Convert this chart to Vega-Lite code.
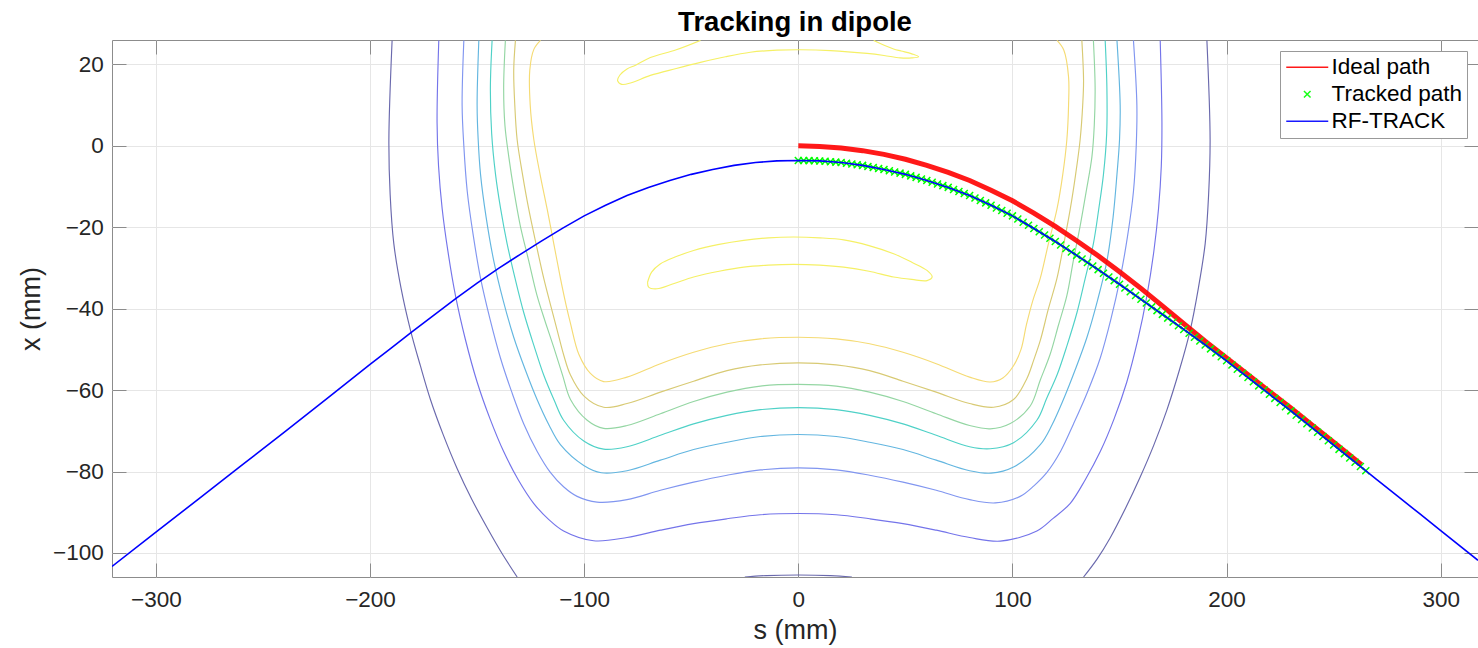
{
"$schema": "https://vega.github.io/schema/vega-lite/v6.json",
"width": 1366,
"height": 537,
"autosize": {"type": "none"},
"padding": {"left": 112, "top": 40, "right": 0, "bottom": 71},
"background": "#ffffff",
"title": {"text": "Tracking in dipole", "font": "Liberation Sans", "fontSize": 27.5, "fontWeight": "bold", "color": "#000000", "anchor": "middle", "offset": 3},
"config": {
  "view": {"stroke": "#8c8c8c", "strokeWidth": 1},
  "axis": {"labelFont": "Liberation Sans", "labelFontSize": 22.5, "labelColor": "#262626", "titleFont": "Liberation Sans", "titleFontSize": 27, "titleFontWeight": "normal", "titleColor": "#262626", "gridColor": "#e6e6e6", "gridWidth": 1, "tickColor": "#8c8c8c", "tickWidth": 1, "tickSize": -14, "domain": false}
},
"resolve": {"axis": {"x": "independent", "y": "independent"}},
"datasets": {
"contours": [
{"p":"C1","l":"C1","s":-120.4,"x":25.9},{"p":"C1","l":"C1","s":-123.5,"x":23.7},{"p":"C1","l":"C1","s":-125.4,"x":18.6},{"p":"C1","l":"C1","s":-125.2,"x":10},{"p":"C1","l":"C1","s":-123.5,"x":1.5},{"p":"C1","l":"C1","s":-120.6,"x":-7},{"p":"C1","l":"C1","s":-117.3,"x":-15.5},{"p":"C1","l":"C1","s":-114.2,"x":-24},{"p":"C1","l":"C1","s":-111.1,"x":-32.5},{"p":"C1","l":"C1","s":-108.5,"x":-39},{"p":"C1","l":"C1","s":-106.4,"x":-43.6},{"p":"C1","l":"C1","s":-102.5,"x":-51.2},{"p":"C1","l":"C1","s":-97.1,"x":-55.9},{"p":"C1","l":"C1","s":-90.9,"x":-57.9},{"p":"C1","l":"C1","s":-80,"x":-56.8},{"p":"C1","l":"C1","s":-64.4,"x":-53.5},{"p":"C1","l":"C1","s":-48.9,"x":-50.7},{"p":"C1","l":"C1","s":-33.3,"x":-48.6},{"p":"C1","l":"C1","s":-17.7,"x":-47.4},{"p":"C1","l":"C1","s":0,"x":-47.0},{"p":"C1","l":"C1","s":17.7,"x":-47.4},{"p":"C1","l":"C1","s":33.3,"x":-48.6},{"p":"C1","l":"C1","s":48.9,"x":-50.7},{"p":"C1","l":"C1","s":64.4,"x":-53.5},{"p":"C1","l":"C1","s":80,"x":-56.8},{"p":"C1","l":"C1","s":89.6,"x":-58.0},{"p":"C1","l":"C1","s":95.5,"x":-57.0},{"p":"C1","l":"C1","s":100.5,"x":-54.0},{"p":"C1","l":"C1","s":104,"x":-50},{"p":"C1","l":"C1","s":106.5,"x":-44},{"p":"C1","l":"C1","s":109.5,"x":-38},{"p":"C1","l":"C1","s":113,"x":-32.5},{"p":"C1","l":"C1","s":116.8,"x":-24},{"p":"C1","l":"C1","s":120.8,"x":-15.5},{"p":"C1","l":"C1","s":123.5,"x":-7},{"p":"C1","l":"C1","s":125.4,"x":1.5},{"p":"C1","l":"C1","s":126.2,"x":10},{"p":"C1","l":"C1","s":126.2,"x":16.9},{"p":"C1","l":"C1","s":124,"x":23.5},{"p":"C1","l":"C1","s":120.8,"x":25.9},
{"p":"C2","l":"C2","s":-132.1,"x":25.9},{"p":"C2","l":"C2","s":-132.9,"x":18.6},{"p":"C2","l":"C2","s":-132.4,"x":10},{"p":"C2","l":"C2","s":-131.3,"x":1.5},{"p":"C2","l":"C2","s":-128.8,"x":-7},{"p":"C2","l":"C2","s":-125.9,"x":-15.5},{"p":"C2","l":"C2","s":-122.5,"x":-24},{"p":"C2","l":"C2","s":-118.9,"x":-32.5},{"p":"C2","l":"C2","s":-115.5,"x":-39.5},{"p":"C2","l":"C2","s":-112.6,"x":-45.3},{"p":"C2","l":"C2","s":-109.5,"x":-51.5},{"p":"C2","l":"C2","s":-106.4,"x":-56.3},{"p":"C2","l":"C2","s":-100.2,"x":-61.4},{"p":"C2","l":"C2","s":-90.9,"x":-64.2},{"p":"C2","l":"C2","s":-80,"x":-63.3},{"p":"C2","l":"C2","s":-64.4,"x":-60.5},{"p":"C2","l":"C2","s":-48.9,"x":-57.8},{"p":"C2","l":"C2","s":-33.3,"x":-55.2},{"p":"C2","l":"C2","s":-17.7,"x":-53.8},{"p":"C2","l":"C2","s":0,"x":-53.3},{"p":"C2","l":"C2","s":17.7,"x":-53.8},{"p":"C2","l":"C2","s":33.3,"x":-55.2},{"p":"C2","l":"C2","s":48.9,"x":-57.8},{"p":"C2","l":"C2","s":64.4,"x":-60.5},{"p":"C2","l":"C2","s":80,"x":-63.3},{"p":"C2","l":"C2","s":91.2,"x":-64.2},{"p":"C2","l":"C2","s":100.5,"x":-62.3},{"p":"C2","l":"C2","s":106.7,"x":-57.2},{"p":"C2","l":"C2","s":110,"x":-52.5},{"p":"C2","l":"C2","s":113,"x":-47.8},{"p":"C2","l":"C2","s":116.8,"x":-40},{"p":"C2","l":"C2","s":120.8,"x":-32.5},{"p":"C2","l":"C2","s":124,"x":-24},{"p":"C2","l":"C2","s":127,"x":-15.5},{"p":"C2","l":"C2","s":129.5,"x":-7},{"p":"C2","l":"C2","s":131.6,"x":1.5},{"p":"C2","l":"C2","s":132.8,"x":10},{"p":"C2","l":"C2","s":133.2,"x":16},{"p":"C2","l":"C2","s":132.4,"x":25.9},
{"p":"C3","l":"C3","s":-136.8,"x":25.9},{"p":"C3","l":"C3","s":-137.6,"x":14.3},{"p":"C3","l":"C3","s":-137,"x":5},{"p":"C3","l":"C3","s":-135.2,"x":-2.7},{"p":"C3","l":"C3","s":-132.8,"x":-11},{"p":"C3","l":"C3","s":-129.8,"x":-19.7},{"p":"C3","l":"C3","s":-126,"x":-28},{"p":"C3","l":"C3","s":-122,"x":-36.8},{"p":"C3","l":"C3","s":-118,"x":-43.5},{"p":"C3","l":"C3","s":-114.2,"x":-49.5},{"p":"C3","l":"C3","s":-110,"x":-56.5},{"p":"C3","l":"C3","s":-106.4,"x":-62.3},{"p":"C3","l":"C3","s":-98.6,"x":-67.4},{"p":"C3","l":"C3","s":-90.9,"x":-69.4},{"p":"C3","l":"C3","s":-80,"x":-68.7},{"p":"C3","l":"C3","s":-64.4,"x":-65.8},{"p":"C3","l":"C3","s":-48.9,"x":-62.8},{"p":"C3","l":"C3","s":-33.3,"x":-60.5},{"p":"C3","l":"C3","s":-17.7,"x":-59.0},{"p":"C3","l":"C3","s":0,"x":-58.6},{"p":"C3","l":"C3","s":17.7,"x":-59.0},{"p":"C3","l":"C3","s":33.3,"x":-60.5},{"p":"C3","l":"C3","s":48.9,"x":-62.8},{"p":"C3","l":"C3","s":64.4,"x":-65.8},{"p":"C3","l":"C3","s":80,"x":-68.7},{"p":"C3","l":"C3","s":89.6,"x":-69.5},{"p":"C3","l":"C3","s":99,"x":-68.2},{"p":"C3","l":"C3","s":108.3,"x":-63.9},{"p":"C3","l":"C3","s":113,"x":-57.5},{"p":"C3","l":"C3","s":117.6,"x":-51.2},{"p":"C3","l":"C3","s":121.5,"x":-44},{"p":"C3","l":"C3","s":125.4,"x":-36.8},{"p":"C3","l":"C3","s":128.5,"x":-28},{"p":"C3","l":"C3","s":131.6,"x":-19.7},{"p":"C3","l":"C3","s":134.5,"x":-11},{"p":"C3","l":"C3","s":137.1,"x":-2.7},{"p":"C3","l":"C3","s":138.2,"x":5},{"p":"C3","l":"C3","s":138.6,"x":14.3},{"p":"C3","l":"C3","s":137.8,"x":25.9},
{"p":"C4","l":"C4","s":-143,"x":25.9},{"p":"C4","l":"C4","s":-143.8,"x":14.3},{"p":"C4","l":"C4","s":-143.2,"x":3},{"p":"C4","l":"C4","s":-141.4,"x":-7},{"p":"C4","l":"C4","s":-139,"x":-15.5},{"p":"C4","l":"C4","s":-136,"x":-24},{"p":"C4","l":"C4","s":-132.3,"x":-32.5},{"p":"C4","l":"C4","s":-128.2,"x":-41},{"p":"C4","l":"C4","s":-123.5,"x":-49},{"p":"C4","l":"C4","s":-118.9,"x":-56.3},{"p":"C4","l":"C4","s":-114,"x":-62.5},{"p":"C4","l":"C4","s":-109.6,"x":-67.4},{"p":"C4","l":"C4","s":-100.2,"x":-72.5},{"p":"C4","l":"C4","s":-90.9,"x":-74.5},{"p":"C4","l":"C4","s":-80,"x":-73.9},{"p":"C4","l":"C4","s":-64.4,"x":-71.1},{"p":"C4","l":"C4","s":-48.9,"x":-68.3},{"p":"C4","l":"C4","s":-33.3,"x":-66.2},{"p":"C4","l":"C4","s":-17.7,"x":-64.8},{"p":"C4","l":"C4","s":0,"x":-64.3},{"p":"C4","l":"C4","s":17.7,"x":-64.8},{"p":"C4","l":"C4","s":33.3,"x":-66.2},{"p":"C4","l":"C4","s":48.9,"x":-68.3},{"p":"C4","l":"C4","s":64.4,"x":-71.1},{"p":"C4","l":"C4","s":80,"x":-73.9},{"p":"C4","l":"C4","s":89.6,"x":-74.4},{"p":"C4","l":"C4","s":100.5,"x":-72.9},{"p":"C4","l":"C4","s":111.4,"x":-67.4},{"p":"C4","l":"C4","s":116,"x":-62},{"p":"C4","l":"C4","s":120.8,"x":-56.3},{"p":"C4","l":"C4","s":125.5,"x":-49},{"p":"C4","l":"C4","s":130.1,"x":-41},{"p":"C4","l":"C4","s":134,"x":-32.5},{"p":"C4","l":"C4","s":137.8,"x":-24},{"p":"C4","l":"C4","s":140.3,"x":-15.5},{"p":"C4","l":"C4","s":142.5,"x":-7},{"p":"C4","l":"C4","s":144,"x":3},{"p":"C4","l":"C4","s":144.1,"x":14.3},{"p":"C4","l":"C4","s":143.3,"x":25.9},
{"p":"C5","l":"C5","s":-149.2,"x":25.9},{"p":"C5","l":"C5","s":-150,"x":10},{"p":"C5","l":"C5","s":-149.5,"x":1.5},{"p":"C5","l":"C5","s":-148.4,"x":-7},{"p":"C5","l":"C5","s":-145.8,"x":-17.5},{"p":"C5","l":"C5","s":-142.2,"x":-28.3},{"p":"C5","l":"C5","s":-137.8,"x":-38},{"p":"C5","l":"C5","s":-132.9,"x":-47},{"p":"C5","l":"C5","s":-127.5,"x":-55},{"p":"C5","l":"C5","s":-122,"x":-62.3},{"p":"C5","l":"C5","s":-116.5,"x":-68.5},{"p":"C5","l":"C5","s":-111.1,"x":-73.4},{"p":"C5","l":"C5","s":-100.2,"x":-78.5},{"p":"C5","l":"C5","s":-92,"x":-80.3},{"p":"C5","l":"C5","s":-80,"x":-79.8},{"p":"C5","l":"C5","s":-64.4,"x":-77.2},{"p":"C5","l":"C5","s":-48.9,"x":-74.6},{"p":"C5","l":"C5","s":-33.3,"x":-72.8},{"p":"C5","l":"C5","s":-17.7,"x":-71.4},{"p":"C5","l":"C5","s":0,"x":-70.9},{"p":"C5","l":"C5","s":17.7,"x":-71.4},{"p":"C5","l":"C5","s":33.3,"x":-72.8},{"p":"C5","l":"C5","s":48.9,"x":-74.6},{"p":"C5","l":"C5","s":64.4,"x":-77.2},{"p":"C5","l":"C5","s":80,"x":-79.8},{"p":"C5","l":"C5","s":90,"x":-80.4},{"p":"C5","l":"C5","s":100.5,"x":-78.9},{"p":"C5","l":"C5","s":113,"x":-73.4},{"p":"C5","l":"C5","s":118.5,"x":-68.5},{"p":"C5","l":"C5","s":123.8,"x":-62.3},{"p":"C5","l":"C5","s":129.3,"x":-55},{"p":"C5","l":"C5","s":134.8,"x":-47},{"p":"C5","l":"C5","s":139.7,"x":-38},{"p":"C5","l":"C5","s":144.1,"x":-28.3},{"p":"C5","l":"C5","s":147,"x":-17.5},{"p":"C5","l":"C5","s":148.8,"x":-7},{"p":"C5","l":"C5","s":150,"x":1.5},{"p":"C5","l":"C5","s":150.3,"x":10},{"p":"C5","l":"C5","s":148.8,"x":25.9},
{"p":"C6","l":"C6","s":-156.2,"x":25.9},{"p":"C6","l":"C6","s":-157,"x":10},{"p":"C6","l":"C6","s":-156.2,"x":0},{"p":"C6","l":"C6","s":-154.6,"x":-11.2},{"p":"C6","l":"C6","s":-151.8,"x":-22},{"p":"C6","l":"C6","s":-148.4,"x":-32.5},{"p":"C6","l":"C6","s":-144,"x":-42.5},{"p":"C6","l":"C6","s":-139.1,"x":-52.1},{"p":"C6","l":"C6","s":-133.8,"x":-60.5},{"p":"C6","l":"C6","s":-128.2,"x":-68.3},{"p":"C6","l":"C6","s":-122,"x":-75},{"p":"C6","l":"C6","s":-115.8,"x":-80.2},{"p":"C6","l":"C6","s":-109.5,"x":-83.8},{"p":"C6","l":"C6","s":-103.3,"x":-86.1},{"p":"C6","l":"C6","s":-94,"x":-87.5},{"p":"C6","l":"C6","s":-80,"x":-86.9},{"p":"C6","l":"C6","s":-64.4,"x":-84.6},{"p":"C6","l":"C6","s":-48.9,"x":-82.6},{"p":"C6","l":"C6","s":-33.3,"x":-80.9},{"p":"C6","l":"C6","s":-17.7,"x":-79.6},{"p":"C6","l":"C6","s":0,"x":-79.1},{"p":"C6","l":"C6","s":17.7,"x":-79.6},{"p":"C6","l":"C6","s":33.3,"x":-80.9},{"p":"C6","l":"C6","s":48.9,"x":-82.6},{"p":"C6","l":"C6","s":64.4,"x":-84.6},{"p":"C6","l":"C6","s":80,"x":-86.9},{"p":"C6","l":"C6","s":92,"x":-87.7},{"p":"C6","l":"C6","s":103.6,"x":-86.1},{"p":"C6","l":"C6","s":110,"x":-83.5},{"p":"C6","l":"C6","s":116.1,"x":-80.2},{"p":"C6","l":"C6","s":122.5,"x":-75},{"p":"C6","l":"C6","s":128.5,"x":-68.3},{"p":"C6","l":"C6","s":135,"x":-60.5},{"p":"C6","l":"C6","s":141,"x":-52.1},{"p":"C6","l":"C6","s":146,"x":-42.5},{"p":"C6","l":"C6","s":150.3,"x":-32.5},{"p":"C6","l":"C6","s":153.8,"x":-22},{"p":"C6","l":"C6","s":156.5,"x":-11.2},{"p":"C6","l":"C6","s":157.8,"x":0},{"p":"C6","l":"C6","s":158.1,"x":10},{"p":"C6","l":"C6","s":156.5,"x":25.9},
{"p":"C7","l":"C7","s":-167.9,"x":25.9},{"p":"C7","l":"C7","s":-168.7,"x":5.8},{"p":"C7","l":"C7","s":-168,"x":-5},{"p":"C7","l":"C7","s":-166.3,"x":-15.5},{"p":"C7","l":"C7","s":-163.6,"x":-26},{"p":"C7","l":"C7","s":-160.1,"x":-36.8},{"p":"C7","l":"C7","s":-155.5,"x":-47.5},{"p":"C7","l":"C7","s":-150,"x":-58},{"p":"C7","l":"C7","s":-144,"x":-67},{"p":"C7","l":"C7","s":-137.6,"x":-75.1},{"p":"C7","l":"C7","s":-130.8,"x":-82},{"p":"C7","l":"C7","s":-123.6,"x":-87.8},{"p":"C7","l":"C7","s":-116.5,"x":-91.8},{"p":"C7","l":"C7","s":-109.6,"x":-94.6},{"p":"C7","l":"C7","s":-95.6,"x":-97.0},{"p":"C7","l":"C7","s":-80,"x":-96.2},{"p":"C7","l":"C7","s":-64.4,"x":-94.4},{"p":"C7","l":"C7","s":-48.9,"x":-92.8},{"p":"C7","l":"C7","s":-33.3,"x":-91.6},{"p":"C7","l":"C7","s":-17.7,"x":-90.6},{"p":"C7","l":"C7","s":0,"x":-90.3},{"p":"C7","l":"C7","s":17.7,"x":-90.6},{"p":"C7","l":"C7","s":33.3,"x":-91.6},{"p":"C7","l":"C7","s":48.9,"x":-92.8},{"p":"C7","l":"C7","s":64.4,"x":-94.4},{"p":"C7","l":"C7","s":80,"x":-96.2},{"p":"C7","l":"C7","s":94.3,"x":-97.1},{"p":"C7","l":"C7","s":111.4,"x":-94.6},{"p":"C7","l":"C7","s":119,"x":-91.5},{"p":"C7","l":"C7","s":127,"x":-87.8},{"p":"C7","l":"C7","s":134,"x":-82},{"p":"C7","l":"C7","s":141,"x":-75.1},{"p":"C7","l":"C7","s":147.5,"x":-67},{"p":"C7","l":"C7","s":153.4,"x":-58},{"p":"C7","l":"C7","s":158.6,"x":-47.5},{"p":"C7","l":"C7","s":162.8,"x":-36.8},{"p":"C7","l":"C7","s":166,"x":-26},{"p":"C7","l":"C7","s":168.2,"x":-15.5},{"p":"C7","l":"C7","s":169.5,"x":-5},{"p":"C7","l":"C7","s":169.8,"x":5.8},{"p":"C7","l":"C7","s":169,"x":25.9},
{"p":"D8a","l":"D8","s":-189.7,"x":25.9},{"p":"D8a","l":"D8","s":-191.2,"x":1.5},{"p":"D8a","l":"D8","s":-190.6,"x":-12},{"p":"D8a","l":"D8","s":-188.9,"x":-24},{"p":"D8a","l":"D8","s":-185.5,"x":-35},{"p":"D8a","l":"D8","s":-181.1,"x":-45.3},{"p":"D8a","l":"D8","s":-176.5,"x":-54},{"p":"D8a","l":"D8","s":-171.8,"x":-62.3},{"p":"D8a","l":"D8","s":-165.8,"x":-71},{"p":"D8a","l":"D8","s":-159.3,"x":-79.3},{"p":"D8a","l":"D8","s":-152.5,"x":-86.8},{"p":"D8a","l":"D8","s":-145.3,"x":-93.8},{"p":"D8a","l":"D8","s":-138.5,"x":-100},{"p":"D8a","l":"D8","s":-131.3,"x":-105.9},
{"p":"D8b","l":"D8","s":190.8,"x":25.9},{"p":"D8b","l":"D8","s":192.3,"x":1.5},{"p":"D8b","l":"D8","s":191.6,"x":-12},{"p":"D8b","l":"D8","s":190,"x":-24},{"p":"D8b","l":"D8","s":186.8,"x":-35},{"p":"D8b","l":"D8","s":183,"x":-45.3},{"p":"D8b","l":"D8","s":178,"x":-55},{"p":"D8b","l":"D8","s":172.1,"x":-64.9},{"p":"D8b","l":"D8","s":166,"x":-73.5},{"p":"D8b","l":"D8","s":159.6,"x":-81.4},{"p":"D8b","l":"D8","s":152.8,"x":-89},{"p":"D8b","l":"D8","s":145.6,"x":-96.3},{"p":"D8b","l":"D8","s":139.5,"x":-101.5},{"p":"D8b","l":"D8","s":133.2,"x":-105.9},
{"p":"D8c","l":"D8","s":-25,"x":-105.9},{"p":"D8c","l":"D8","s":-15,"x":-105.55},{"p":"D8c","l":"D8","s":0,"x":-105.4},{"p":"D8c","l":"D8","s":15,"x":-105.55},{"p":"D8c","l":"D8","s":25,"x":-105.9},
{"p":"I1","l":"I","s":-45.7,"x":25.9},{"p":"I1","l":"I","s":-57,"x":23.6},{"p":"I1","l":"I","s":-69.1,"x":21.7},{"p":"I1","l":"I","s":-76,"x":19.8},{"p":"I1","l":"I","s":-80,"x":18.9},{"p":"I1","l":"I","s":-83.3,"x":17.4},{"p":"I1","l":"I","s":-84.4,"x":16.0},{"p":"I1","l":"I","s":-82.5,"x":15.1},{"p":"I1","l":"I","s":-78,"x":15.5},{"p":"I1","l":"I","s":-69.1,"x":17.3},{"p":"I1","l":"I","s":-57,"x":19.0},{"p":"I1","l":"I","s":-45.7,"x":20.5},{"p":"I1","l":"I","s":-34,"x":21.9},{"p":"I1","l":"I","s":-22.4,"x":23.0},{"p":"I1","l":"I","s":-10,"x":23.5},{"p":"I1","l":"I","s":1,"x":23.6},{"p":"I1","l":"I","s":15,"x":23.4},{"p":"I1","l":"I","s":32.1,"x":22.7},{"p":"I1","l":"I","s":40,"x":22.2},{"p":"I1","l":"I","s":47.6,"x":21.6},{"p":"I1","l":"I","s":53,"x":21.6},{"p":"I1","l":"I","s":56.2,"x":21.9},{"p":"I1","l":"I","s":53,"x":22.6},{"p":"I1","l":"I","s":48,"x":23.3},{"p":"I1","l":"I","s":44.5,"x":23.8},{"p":"I1","l":"I","s":38,"x":25.2},{"p":"I1","l":"I","s":35.2,"x":25.9},
{"p":"I2","l":"I","s":-70.4,"x":-33.5},{"p":"I2","l":"I","s":-68.5,"x":-31},{"p":"I2","l":"I","s":-64.5,"x":-29.0},{"p":"I2","l":"I","s":-57,"x":-27.2},{"p":"I2","l":"I","s":-48.9,"x":-25.7},{"p":"I2","l":"I","s":-37,"x":-24.2},{"p":"I2","l":"I","s":-25.5,"x":-23.2},{"p":"I2","l":"I","s":-14,"x":-22.6},{"p":"I2","l":"I","s":-2.2,"x":-22.4},{"p":"I2","l":"I","s":10,"x":-22.6},{"p":"I2","l":"I","s":21.2,"x":-23.1},{"p":"I2","l":"I","s":33,"x":-24.5},{"p":"I2","l":"I","s":44.5,"x":-26.5},{"p":"I2","l":"I","s":53,"x":-28.6},{"p":"I2","l":"I","s":60.1,"x":-30.6},{"p":"I2","l":"I","s":62.5,"x":-32.2},{"p":"I2","l":"I","s":60.1,"x":-33.1},{"p":"I2","l":"I","s":53,"x":-32.8},{"p":"I2","l":"I","s":44.5,"x":-32.2},{"p":"I2","l":"I","s":33,"x":-30.8},{"p":"I2","l":"I","s":21.2,"x":-29.8},{"p":"I2","l":"I","s":10,"x":-29.3},{"p":"I2","l":"I","s":-2.2,"x":-29.1},{"p":"I2","l":"I","s":-14,"x":-29.3},{"p":"I2","l":"I","s":-25.5,"x":-29.8},{"p":"I2","l":"I","s":-37,"x":-30.8},{"p":"I2","l":"I","s":-48.9,"x":-32.2},{"p":"I2","l":"I","s":-58,"x":-33.8},{"p":"I2","l":"I","s":-66,"x":-35.1},{"p":"I2","l":"I","s":-69.9,"x":-34.7},{"p":"I2","l":"I","s":-70.4,"x":-33.5}
],
"ideal": [
{"series":"Ideal path","s":0,"x":0},{"series":"Ideal path","s":10,"x":-0.13},{"series":"Ideal path","s":20,"x":-0.52},{"series":"Ideal path","s":30,"x":-1.18},{"series":"Ideal path","s":40,"x":-2.1},{"series":"Ideal path","s":50,"x":-3.3},{"series":"Ideal path","s":60,"x":-4.8},{"series":"Ideal path","s":70,"x":-6.5},{"series":"Ideal path","s":80,"x":-8.5},{"series":"Ideal path","s":90,"x":-10.9},{"series":"Ideal path","s":100,"x":-13.5},{"series":"Ideal path","s":110,"x":-16.5},{"series":"Ideal path","s":120,"x":-19.8},{"series":"Ideal path","s":130,"x":-23.3},{"series":"Ideal path","s":140,"x":-27.0},{"series":"Ideal path","s":150,"x":-30.9},{"series":"Ideal path","s":160,"x":-35.0},{"series":"Ideal path","s":170,"x":-39.3},{"series":"Ideal path","s":180,"x":-43.7},{"series":"Ideal path","s":190,"x":-48.0},{"series":"Ideal path","s":200,"x":-52.1},{"series":"Ideal path","s":210,"x":-56.2},{"series":"Ideal path","s":220,"x":-60.3},{"series":"Ideal path","s":230,"x":-64.4},{"series":"Ideal path","s":240,"x":-68.6},{"series":"Ideal path","s":250,"x":-72.8},{"series":"Ideal path","s":263,"x":-78.3}
],
"tracked": [
{"series":"Tracked path","s":0,"x":-3.6},{"series":"Tracked path","s":2.5,"x":-3.61},{"series":"Tracked path","s":5,"x":-3.63},{"series":"Tracked path","s":7.5,"x":-3.66},{"series":"Tracked path","s":10,"x":-3.7},{"series":"Tracked path","s":12.5,"x":-3.79},{"series":"Tracked path","s":15,"x":-3.9},{"series":"Tracked path","s":17.5,"x":-4.0},{"series":"Tracked path","s":20,"x":-4.1},{"series":"Tracked path","s":22.5,"x":-4.27},{"series":"Tracked path","s":25,"x":-4.45},{"series":"Tracked path","s":27.5,"x":-4.62},{"series":"Tracked path","s":30,"x":-4.8},{"series":"Tracked path","s":32.5,"x":-5.05},{"series":"Tracked path","s":35,"x":-5.3},{"series":"Tracked path","s":37.5,"x":-5.55},{"series":"Tracked path","s":40,"x":-5.8},{"series":"Tracked path","s":42.5,"x":-6.1},{"series":"Tracked path","s":45,"x":-6.4},{"series":"Tracked path","s":47.5,"x":-6.7},{"series":"Tracked path","s":50,"x":-7.0},{"series":"Tracked path","s":52.5,"x":-7.37},{"series":"Tracked path","s":55,"x":-7.75},{"series":"Tracked path","s":57.5,"x":-8.12},{"series":"Tracked path","s":60,"x":-8.5},{"series":"Tracked path","s":62.5,"x":-8.92},{"series":"Tracked path","s":65,"x":-9.35},{"series":"Tracked path","s":67.5,"x":-9.77},{"series":"Tracked path","s":70,"x":-10.2},{"series":"Tracked path","s":72.5,"x":-10.7},{"series":"Tracked path","s":75,"x":-11.2},{"series":"Tracked path","s":77.5,"x":-11.7},{"series":"Tracked path","s":80,"x":-12.2},{"series":"Tracked path","s":82.5,"x":-12.8},{"series":"Tracked path","s":85,"x":-13.4},{"series":"Tracked path","s":87.5,"x":-14.0},{"series":"Tracked path","s":90,"x":-14.6},{"series":"Tracked path","s":92.5,"x":-15.25},{"series":"Tracked path","s":95,"x":-15.9},{"series":"Tracked path","s":97.5,"x":-16.55},{"series":"Tracked path","s":100,"x":-17.2},{"series":"Tracked path","s":102.5,"x":-17.97},{"series":"Tracked path","s":105,"x":-18.75},{"series":"Tracked path","s":107.5,"x":-19.52},{"series":"Tracked path","s":110,"x":-20.3},{"series":"Tracked path","s":112.5,"x":-21.1},{"series":"Tracked path","s":115,"x":-21.9},{"series":"Tracked path","s":117.5,"x":-22.7},{"series":"Tracked path","s":120,"x":-23.5},{"series":"Tracked path","s":122.5,"x":-24.35},{"series":"Tracked path","s":125,"x":-25.2},{"series":"Tracked path","s":127.5,"x":-26.05},{"series":"Tracked path","s":130,"x":-26.9},{"series":"Tracked path","s":132.5,"x":-27.77},{"series":"Tracked path","s":135,"x":-28.65},{"series":"Tracked path","s":137.5,"x":-29.52},{"series":"Tracked path","s":140,"x":-30.4},{"series":"Tracked path","s":142.5,"x":-31.3},{"series":"Tracked path","s":145,"x":-32.2},{"series":"Tracked path","s":147.5,"x":-33.1},{"series":"Tracked path","s":150,"x":-34.0},{"series":"Tracked path","s":152.5,"x":-34.92},{"series":"Tracked path","s":155,"x":-35.85},{"series":"Tracked path","s":157.5,"x":-36.77},{"series":"Tracked path","s":160,"x":-37.7},{"series":"Tracked path","s":162.5,"x":-38.62},{"series":"Tracked path","s":165,"x":-39.55},{"series":"Tracked path","s":167.5,"x":-40.47},{"series":"Tracked path","s":170,"x":-41.4},{"series":"Tracked path","s":172.5,"x":-42.32},{"series":"Tracked path","s":175,"x":-43.25},{"series":"Tracked path","s":177.5,"x":-44.17},{"series":"Tracked path","s":180,"x":-45.1},{"series":"Tracked path","s":182.5,"x":-46.05},{"series":"Tracked path","s":185,"x":-47.0},{"series":"Tracked path","s":187.5,"x":-47.95},{"series":"Tracked path","s":190,"x":-48.9},{"series":"Tracked path","s":192.5,"x":-49.87},{"series":"Tracked path","s":195,"x":-50.85},{"series":"Tracked path","s":197.5,"x":-51.82},{"series":"Tracked path","s":200,"x":-52.8},{"series":"Tracked path","s":202.5,"x":-53.82},{"series":"Tracked path","s":205,"x":-54.85},{"series":"Tracked path","s":207.5,"x":-55.87},{"series":"Tracked path","s":210,"x":-56.9},{"series":"Tracked path","s":212.5,"x":-57.92},{"series":"Tracked path","s":215,"x":-58.95},{"series":"Tracked path","s":217.5,"x":-59.97},{"series":"Tracked path","s":220,"x":-61.0},{"series":"Tracked path","s":222.5,"x":-62.02},{"series":"Tracked path","s":225,"x":-63.05},{"series":"Tracked path","s":227.5,"x":-64.07},{"series":"Tracked path","s":230,"x":-65.1},{"series":"Tracked path","s":232.5,"x":-66.15},{"series":"Tracked path","s":235,"x":-67.2},{"series":"Tracked path","s":237.5,"x":-68.25},{"series":"Tracked path","s":240,"x":-69.3},{"series":"Tracked path","s":242.5,"x":-70.35},{"series":"Tracked path","s":245,"x":-71.4},{"series":"Tracked path","s":247.5,"x":-72.45},{"series":"Tracked path","s":250,"x":-73.5},{"series":"Tracked path","s":252.5,"x":-74.55},{"series":"Tracked path","s":255,"x":-75.6},{"series":"Tracked path","s":257.5,"x":-76.65},{"series":"Tracked path","s":260,"x":-77.7},{"series":"Tracked path","s":262.5,"x":-78.75},{"series":"Tracked path","s":265,"x":-79.8}
],
"rftrack": [
{"series":"RF-TRACK","s":-320.5,"x":-103.3},{"series":"RF-TRACK","s":-300,"x":-94.9},{"series":"RF-TRACK","s":-280,"x":-86.7},{"series":"RF-TRACK","s":-260,"x":-78.5},{"series":"RF-TRACK","s":-240,"x":-70.3},{"series":"RF-TRACK","s":-220,"x":-62.0},{"series":"RF-TRACK","s":-200,"x":-53.7},{"series":"RF-TRACK","s":-190,"x":-49.6},{"series":"RF-TRACK","s":-180,"x":-45.5},{"series":"RF-TRACK","s":-170,"x":-41.5},{"series":"RF-TRACK","s":-160,"x":-37.5},{"series":"RF-TRACK","s":-150,"x":-33.7},{"series":"RF-TRACK","s":-140,"x":-30.1},{"series":"RF-TRACK","s":-130,"x":-26.7},{"series":"RF-TRACK","s":-120,"x":-23.4},{"series":"RF-TRACK","s":-110,"x":-20.2},{"series":"RF-TRACK","s":-100,"x":-17.2},{"series":"RF-TRACK","s":-90,"x":-14.6},{"series":"RF-TRACK","s":-80,"x":-12.2},{"series":"RF-TRACK","s":-70,"x":-10.2},{"series":"RF-TRACK","s":-60,"x":-8.5},{"series":"RF-TRACK","s":-50,"x":-7.0},{"series":"RF-TRACK","s":-40,"x":-5.8},{"series":"RF-TRACK","s":-30,"x":-4.8},{"series":"RF-TRACK","s":-20,"x":-4.1},{"series":"RF-TRACK","s":-10,"x":-3.7},{"series":"RF-TRACK","s":0,"x":-3.6},{"series":"RF-TRACK","s":10,"x":-3.7},{"series":"RF-TRACK","s":20,"x":-4.1},{"series":"RF-TRACK","s":30,"x":-4.8},{"series":"RF-TRACK","s":40,"x":-5.8},{"series":"RF-TRACK","s":50,"x":-7.0},{"series":"RF-TRACK","s":60,"x":-8.5},{"series":"RF-TRACK","s":70,"x":-10.2},{"series":"RF-TRACK","s":80,"x":-12.2},{"series":"RF-TRACK","s":90,"x":-14.6},{"series":"RF-TRACK","s":100,"x":-17.2},{"series":"RF-TRACK","s":110,"x":-20.3},{"series":"RF-TRACK","s":120,"x":-23.5},{"series":"RF-TRACK","s":130,"x":-26.9},{"series":"RF-TRACK","s":140,"x":-30.4},{"series":"RF-TRACK","s":150,"x":-34.0},{"series":"RF-TRACK","s":160,"x":-37.7},{"series":"RF-TRACK","s":170,"x":-41.4},{"series":"RF-TRACK","s":180,"x":-45.1},{"series":"RF-TRACK","s":190,"x":-48.9},{"series":"RF-TRACK","s":200,"x":-52.8},{"series":"RF-TRACK","s":210,"x":-56.9},{"series":"RF-TRACK","s":220,"x":-61.0},{"series":"RF-TRACK","s":230,"x":-65.1},{"series":"RF-TRACK","s":240,"x":-69.3},{"series":"RF-TRACK","s":250,"x":-73.5},{"series":"RF-TRACK","s":260,"x":-77.7},{"series":"RF-TRACK","s":270,"x":-81.9},{"series":"RF-TRACK","s":280,"x":-86.1},{"series":"RF-TRACK","s":290,"x":-90.3},{"series":"RF-TRACK","s":300,"x":-94.5},{"series":"RF-TRACK","s":317.4,"x":-101.8}
]
},
"layer": [
{
  "data": {"name": "contours"},
  "mark": {"type": "line", "interpolate": "catmull-rom", "strokeWidth": 1.15, "clip": true},
  "encoding": {
    "x": {"field": "s", "type": "quantitative", "scale": {"domain": [-320.5, 317.4], "nice": false, "zero": false},
          "axis": {"orient": "bottom", "values": [-300,-200,-100,0,100,200,300], "title": "s (mm)", "grid": true, "labelPadding": 25, "titlePadding": 7}},
    "y": {"field": "x", "type": "quantitative", "scale": {"domain": [-105.9, 26], "nice": false, "zero": false},
          "axis": {"orient": "left", "values": [-100,-80,-60,-40,-20,0,20], "title": "x (mm)", "grid": true, "labelPadding": 22.7, "titlePadding": 7}},
    "detail": {"field": "p", "type": "nominal"},
    "stroke": {"field": "l", "type": "nominal", "legend": null,
               "scale": {"domain": ["D8","C7","C6","C5","C4","C3","C2","C1","I"],
                         "range": ["#6a69ad","#7474ea","#8196f0","#63b6e0","#4fd1c7","#94d6a3","#d8ca74","#f5db74","#f5f066"]}},
    "order": {"value": null}
  }
},
{
  "data": {"name": "ideal"},
  "mark": {"type": "line", "strokeWidth": 5, "opacity": 0.9, "clip": true},
  "encoding": {
    "x": {"field": "s", "type": "quantitative", "axis": null},
    "y": {"field": "x", "type": "quantitative", "axis": null},
    "color": {"field": "series", "type": "nominal",
              "scale": {"domain": ["Ideal path","Tracked path","RF-TRACK"], "range": ["#ff0000","#00ff00","#0000ff"]},
              "legend": {"orient": "none", "legendX": 1168, "legendY": 11, "title": null, "labelFont": "Liberation Sans", "labelFontSize": 22.5, "labelColor": "#000000", "labelOffset": 13, "symbolOffset": 11, "symbolSize": 400, "symbolStrokeWidth": 1.5, "symbolFillColor": "transparent", "strokeColor": "#999999", "fillColor": "#ffffff", "padding": 5, "rowPadding": 4, "cornerRadius": 0}}
  }
},
{
  "data": {"name": "tracked"},
  "mark": {"type": "point", "filled": false, "size": 450, "strokeWidth": 1.5, "opacity": 1, "clip": true},
  "encoding": {
    "x": {"field": "s", "type": "quantitative", "axis": null},
    "y": {"field": "x", "type": "quantitative", "axis": null},
    "color": {"field": "series", "type": "nominal"},
    "shape": {"field": "series", "type": "nominal",
              "scale": {"domain": ["Ideal path","Tracked path","RF-TRACK"], "range": ["M-2.1,0L2.1,0","M-0.33,-0.33L0.33,0.33M-0.33,0.33L0.33,-0.33","M-2.1,0L2.1,0"]}}
  }
},
{
  "data": {"name": "rftrack"},
  "mark": {"type": "line", "strokeWidth": 1.6, "clip": true},
  "encoding": {
    "x": {"field": "s", "type": "quantitative",
          "axis": {"orient": "top", "values": [-300,-200,-100,0,100,200,300], "labels": false, "title": null, "grid": false, "tickSize": -14}},
    "y": {"field": "x", "type": "quantitative",
          "axis": {"orient": "right", "values": [-100,-80,-60,-40,-20,0,20], "labels": false, "title": null, "grid": false, "tickSize": -14}},
    "color": {"field": "series", "type": "nominal"},
    "order": {"value": null}
  }
}
]
}
